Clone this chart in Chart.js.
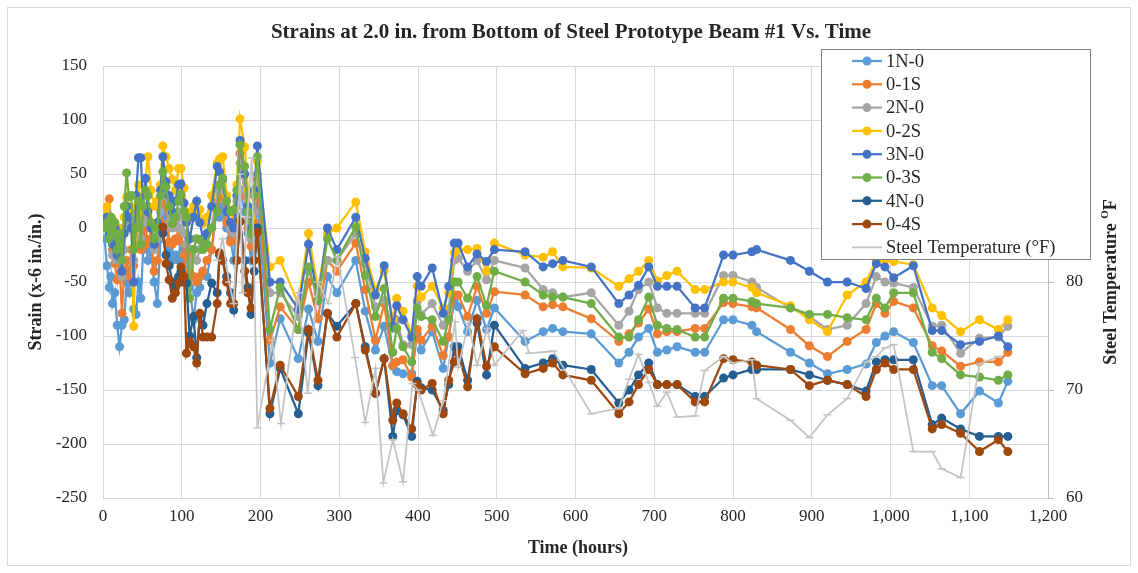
<!DOCTYPE html>
<html>
<head>
<meta charset="utf-8">
<title>Strains vs. Time</title>
<script src="https://cdn.jsdelivr.net/npm/chart.js@4.4.1/dist/chart.umd.min.js"></script>
<style>
  html, body { margin: 0; padding: 0; background: #fff; }
  canvas { display: block; }
</style>
</head>
<body>
<canvas id="strainChart" width="1138" height="573"></canvas>
<script>
// time of each gauge reading (hours)
var hours = [
  2, 5, 8, 10, 12, 15, 18, 21, 24, 27, 30, 33, 36, 39, 42, 45, 48, 51, 54, 57,
  61, 65, 69, 73, 76, 80, 84, 88, 92, 96, 99, 103, 106, 110, 115, 119, 123, 127, 132, 138,
  145, 148, 152, 157, 162, 166, 170, 174, 180, 184, 188, 192, 196,
  212, 225, 248, 261, 273, 285, 297, 321, 333, 346, 357, 368, 373, 381, 392, 399, 404, 418,
  432, 439, 446, 451, 463, 475, 487, 497, 536,
  559, 571, 584, 620, 655, 668, 680, 693, 704, 716, 729, 752, 764, 788, 800, 824, 830,
  873, 897, 920, 945, 969, 982, 993, 1004, 1029, 1053, 1065, 1089, 1113, 1137, 1149
];

var s1N0 = [
  -10, -35, -55, -45, -70, -60, -90, -110, -90, -85, -50, -60, -40, -75, -80, -50, -65, -20, -10, -30,
  -20, -50, -70, -10, 30, 10, -20, -30, -25, -30, -5, -20, -30, -55, -85, -60, -55, -40, -45, -20,
  20, 10, 20, 0, -10, -30, 10, 35, 15, -5, -30, -10, 25,
  -125, -84, -121, -75, -105, -45, -60, -30, -77, -113, -91, -128, -133, -135, -135, -98, -113, -96,
  -130, -101, -68, -73, -96, -67, -94, -74, -105,
  -96, -93, -96, -98, -125, -115, -101, -93, -115, -113, -110, -115, -115, -85, -85, -90, -96,
  -115, -125, -135, -131, -126, -106, -100, -96, -106, -146, -146, -172, -151, -162, -142
];
var s01S = [
  17, 0, 27, 5, -20, -33, -48, -30, -79, -40, -30, -45, -20, -35, -10, 10, -20, 0, -15, 10,
  -10, -40, -30, 5, 20, 30, -13, -15, -10, -12, -5, -25, -40, -20, -45, -50, -45, -40, -30, -20,
  26, 30, 29, 5, -13, -10, 20, 69, 30, 0, -17, 5, 45,
  -104, -73, -94, -50, -84, -30, -40, -14, -57, -104, -70, -127, -124, -122, -138, -94, -104, -91,
  -118, -101, -62, -62, -82, -54, -79, -59, -62,
  -73, -71, -73, -84, -105, -98, -88, -75, -98, -96, -96, -93, -93, -69, -70, -73, -74,
  -94, -109, -119, -105, -94, -70, -79, -68, -74, -109, -114, -128, -124, -124, -115
];
var s2N0 = [
  10, 15, 0, -10, -25, -5, -30, -20, -45, -20, 10, 0, 15, -30, 5, 20, -10, 15, 5, 20,
  0, -20, -10, 15, 40, 30, 5, 0, 5, 0, 15, -5, -15, -35, -20, -30, -20, -15, -5, 0,
  35, 40, 35, 15, 0, -5, 25, 60, 35, 5, -10, 15, 50,
  -60, -60, -82, -40, -60, -30, -30, -5, -33, -73, -67, -93, -85, -108, -108, -68, -80, -70,
  -90, -75, -30, -28, -40, -30, -48, -30, -37,
  -57, -60, -64, -60, -90, -77, -57, -50, -74, -79, -79, -79, -79, -44, -44, -50, -55,
  -74, -82, -94, -90, -70, -45, -50, -51, -55, -91, -90, -116, -102, -101, -91
];
var s02S = [
  15, 20, 5, 10, -10, 5, -20, 0, -30, 10, 29, 20, 10, -91, 20, 40, 15, 30, 45, 66,
  35, 20, 25, 40, 76, 66, 55, 45, 35, 55, 55, 37, 15, 10, 20, 15, 17, 4, 10, 30,
  60, 64, 66, 30, 15, 5, 40, 101, 75, 35, 10, 30, 62,
  -36, -30, -70, -5, -57, -5, 0, 24, -22, -57, -40, -85, -65, -77, -99, -54, -64, -54,
  -74, -60, -23, -20, -20, -19, -40, -14, -25,
  -27, -22, -36, -37, -54, -47, -40, -30, -49, -44, -40, -57, -57, -50, -50, -55, -60,
  -72, -85, -96, -62, -50, -30, -30, -31, -34, -74, -81, -96, -85, -94, -85
];
var s3N0 = [
  5, 10, -5, 0, -15, 0, -25, -10, -40, -5, 20, 10, 0, -50, 30, 65, 65, 20, 46, 15,
  0, -15, 5, 35, 66, 43, 30, 15, 25, 40, 41, 23, 5, -10, 10, 25, 5, -10, -5, 20,
  57, 52, 45, 15, 5, 0, 30, 81, 50, 20, 0, 35, 76,
  -50, -50, -75, -15, -67, 0, -20, 10, -28, -62, -35, -91, -72, -85, -101, -45, -54, -37,
  -79, -54, -14, -14, -36, -24, -31, -20, -22,
  -36, -33, -30, -36, -70, -62, -53, -36, -54, -54, -54, -74, -74, -25, -25, -22, -20,
  -30, -40, -50, -50, -56, -33, -36, -46, -35, -95, -95, -108, -105, -100, -110
];
var s03S = [
  0, 5, -10, 10, -5, 5, -20, -5, -30, 20, 51, 29, 30, -20, 0, 25, -15, 20, 35, 30,
  5, -10, 0, 30, 52, 38, 20, 4, 10, 25, 31, 15, 10, -65, -20, -10, -11, -20, -15, 0,
  15, 40, 46, 25, 15, 17, 35, 77, 57, 15, -5, 30, 66,
  -94, -55, -94, -36, -67, -10, -30, 1, -44, -82, -56, -115, -93, -110, -124, -74, -82, -85,
  -105, -85, -50, -50, -65, -45, -72, -40, -50,
  -62, -64, -64, -70, -101, -101, -85, -64, -90, -93, -94, -101, -101, -65, -65, -68, -70,
  -74, -80, -80, -83, -85, -65, -74, -60, -60, -115, -121, -136, -138, -141, -136
];
// gauges 4N-0 and 0-4S start reading at 76 h
var s4N0 = [
  null, null, null, null, null, null, null, null, null, null, null, null, null, null, null, null, null, null, null, null,
  null, null, null, null, -5, -25, -35, -50, -55, -45, -40, -50, -51, -100, -82, -120, -80, -90, -70, -51,
  -60, -25, -30, -45, -60, -76, -30, 6, -30, -55, -80, -40, 0,
  -172, -130, -172, -97, -146, -79, -91, -70, -110, -153, -121, -193, -169, -173, -193, -142, -148, -150,
  -169, -145, -110, -110, -141, -88, -136, -90, -130,
  -125, -121, -127, -131, -162, -150, -136, -125, -145, -145, -145, -156, -156, -139, -136, -131, -131,
  -131, -136, -141, -145, -151, -124, -122, -122, -122, -182, -176, -186, -193, -193, -193
];
var s04S = [
  null, null, null, null, null, null, null, null, null, null, null, null, null, null, null, null, null, null, null, null,
  null, null, null, null, 1, -33, -48, -65, -60, -51, -36, -45, -116, -105, -110, -125, -79, -101, -101, -101,
  -70, -23, -30, -50, -70, -70, -30, 6, -40, -60, -74, -30, -4,
  -167, -127, -156, -94, -141, -79, -101, -70, -113, -153, -121, -178, -162, -172, -186, -145, -150, -144,
  -172, -141, -124, -116, -147, -84, -128, -110, -135,
  -130, -125, -136, -141, -172, -161, -145, -131, -145, -145, -145, -161, -161, -121, -122, -124, -127,
  -131, -146, -141, -145, -156, -131, -125, -131, -131, -186, -182, -190, -207, -196, -207
];

// steel temperature, own time stamps
var tempHours = [
  145, 152, 160, 166, 174, 177, 183, 189, 196, 215, 226, 248, 260, 273, 286, 298, 320, 333, 346, 356,
  368, 381, 393, 400, 419, 432, 447, 451, 464, 475, 488, 497, 533, 541, 559, 572, 620, 655, 668, 680,
  693, 704, 716, 729, 752, 764, 788, 800, 824, 830, 873, 897, 920, 945, 969, 982, 993, 1004, 1029, 1053,
  1065, 1089, 1113, 1137
];
var tempF = [
  82, 84, 80, 78, 90, 79, 86, 91.5, 66.5, 74.6, 66.9, 79, 69.7, 80, 78, 82.3, 73, 67, 72, 61.4,
  65.4, 61.5, 70.6, 70, 65.8, 69, 76.3, 72.1, 76.2, 72.3, 75.7, 72.3, 75.5, 73.4, 73.5, 73.6, 67.8, 68.3, 71, 73.3,
  70.7, 68.5, 69.8, 67.5, 67.6, 71.8, 73.1, 72.5, 72.8, 69.2, 67.2, 65.6, 67.7, 69.2, 72.6, 73.1, 73.9, 74.2, 64.3, 64.3,
  62.7, 61.9, 72.4, 73.1
];

var seriesNames = ['1N-0', '0-1S', '2N-0', '0-2S', '3N-0', '0-3S', '4N-0', '0-4S'];
var seriesValues = [s1N0, s01S, s2N0, s02S, s3N0, s03S, s4N0, s04S];
var seriesColors = ['#5B9BD5', '#ED7D31', '#A5A5A5', '#FFC000', '#4472C4', '#70AD47', '#255E91', '#9E480E'];
var tempColor = '#C3C3C3';

var FONT = "'Liberation Serif', 'Times New Roman', serif";
var TEXT = '#262626';

function toPoints(xs, ys) {
  var out = [];
  for (var i = 0; i < xs.length; i++) {
    if (ys[i] !== null) out.push({ x: xs[i], y: ys[i] });
  }
  return out;
}

var datasets = [];
for (var i = 0; i < seriesNames.length; i++) {
  datasets.push({
    label: seriesNames[i],
    data: toPoints(hours, seriesValues[i]),
    yAxisID: 'y',
    borderColor: seriesColors[i],
    backgroundColor: seriesColors[i],
    borderWidth: 2.25,
    pointRadius: 4.5,
    pointBorderWidth: 0,
    pointBackgroundColor: seriesColors[i],
    tension: 0,
    order: 20 - i
  });
}
datasets.push({
  label: 'Steel Temperature (°F)',
  data: toPoints(tempHours, tempF),
  yAxisID: 'y1',
  borderColor: tempColor,
  backgroundColor: tempColor,
  borderWidth: 1.75,
  pointStyle: 'line',
  pointRadius: 4,
  pointBorderWidth: 1.5,
  pointBorderColor: tempColor,
  tension: 0,
  order: 0
});

// titles, frame and the legend box
var decorations = {
  id: 'decorations',
  beforeDraw: function(chart) {
    var ctx = chart.ctx;
    ctx.save();
    ctx.fillStyle = '#ffffff';
    ctx.fillRect(0, 0, chart.width, chart.height);
    ctx.strokeStyle = '#d9d9d9';
    ctx.lineWidth = 1;
    ctx.strokeRect(7.5, 7.5, chart.width - 15, chart.height - 15);
    ctx.restore();
  },
  afterDraw: function(chart) {
    var ctx = chart.ctx;
    var area = chart.chartArea;
    var midY = (area.top + area.bottom) / 2;
    ctx.save();
    ctx.fillStyle = TEXT;
    ctx.textBaseline = 'middle';

    ctx.textAlign = 'center';
    ctx.font = 'bold 21px ' + FONT;
    ctx.fillText('Strains at 2.0 in. from Bottom of Steel Prototype Beam #1 Vs. Time', 571, 33);

    ctx.font = 'bold 18px ' + FONT;
    ctx.fillText('Time (hours)', 578, 548);

    ctx.save();
    ctx.translate(36, midY);
    ctx.rotate(-Math.PI / 2);
    ctx.fillText('Strain (x-6 in./in.)', 0, 0);
    ctx.restore();

    // right axis title with superscript degree mark
    ctx.save();
    ctx.translate(1111, midY);
    ctx.rotate(-Math.PI / 2);
    var main = 'Steel Temperature ';
    ctx.font = 'bold 18px ' + FONT;
    var w1 = ctx.measureText(main).width;
    var w3 = ctx.measureText('F').width;
    ctx.font = 'bold 11px ' + FONT;
    var w2 = ctx.measureText('O').width;
    var x0 = -(w1 + w2 + w3) / 2;
    ctx.textAlign = 'left';
    ctx.font = 'bold 18px ' + FONT;
    ctx.fillText(main, x0, 0);
    ctx.font = 'bold 11px ' + FONT;
    ctx.fillText('O', x0 + w1, -6);
    ctx.font = 'bold 18px ' + FONT;
    ctx.fillText('F', x0 + w1 + w2, 0);
    ctx.restore();

    // legend
    var lx = 821.5, ly = 49.5, lw = 269, lh = 210;
    ctx.fillStyle = '#ffffff';
    ctx.fillRect(lx, ly, lw, lh);
    ctx.strokeStyle = '#7f7f7f';
    ctx.lineWidth = 1;
    ctx.strokeRect(lx, ly, lw, lh);

    ctx.font = '18.5px ' + FONT;
    ctx.textAlign = 'left';
    var items = chart.data.datasets;
    for (var k = 0; k < items.length; k++) {
      var ds = items[k];
      var y = 61 + k * 23.3;
      ctx.strokeStyle = ds.borderColor;
      ctx.lineWidth = k < 8 ? 2.25 : 1.75;
      ctx.beginPath();
      ctx.moveTo(852, y);
      ctx.lineTo(882, y);
      ctx.stroke();
      if (k < 8) {
        ctx.fillStyle = ds.borderColor;
        ctx.beginPath();
        ctx.arc(867, y, 4.5, 0, Math.PI * 2);
        ctx.fill();
      }
      ctx.fillStyle = TEXT;
      ctx.fillText(ds.label, 886, y + 1);
    }
    ctx.restore();
  }
};

var ctx = document.getElementById('strainChart');
var strainChart = new Chart(ctx, {
  type: 'line',
  data: { datasets: datasets },
  options: {
    responsive: false,
    animation: false,
    events: [],
    layout: { padding: { top: 66, left: 0, right: 0, bottom: 0 } },
    plugins: {
      legend: { display: false },
      tooltip: { enabled: false },
      title: { display: false }
    },
    scales: {
      x: {
        type: 'linear',
        min: 0,
        max: 1200,
        ticks: {
          stepSize: 100,
          padding: 8,
          color: TEXT,
          font: { family: FONT, size: 17 },
          callback: function(v) { return v.toLocaleString('en-US'); }
        },
        grid: { color: '#d9d9d9', drawTicks: false },
        border: { color: '#d9d9d9' },
        afterFit: function(s) { s.height = 75; }
      },
      y: {
        position: 'left',
        min: -250,
        max: 150,
        ticks: {
          stepSize: 50,
          padding: 16,
          color: TEXT,
          font: { family: FONT, size: 17 }
        },
        grid: { color: '#d9d9d9', drawTicks: false },
        border: { color: '#d9d9d9' },
        afterFit: function(s) { s.width = 103; }
      },
      y1: {
        position: 'right',
        min: 60,
        max: 100,
        ticks: {
          stepSize: 10,
          padding: 12,
          color: TEXT,
          font: { family: FONT, size: 17 }
        },
        grid: { drawOnChartArea: false, color: '#bfbfbf', tickLength: 6 },
        border: { color: '#bfbfbf' },
        afterFit: function(s) { s.width = 90; }
      }
    }
  },
  plugins: [decorations]
});
</script>
</body>
</html>
